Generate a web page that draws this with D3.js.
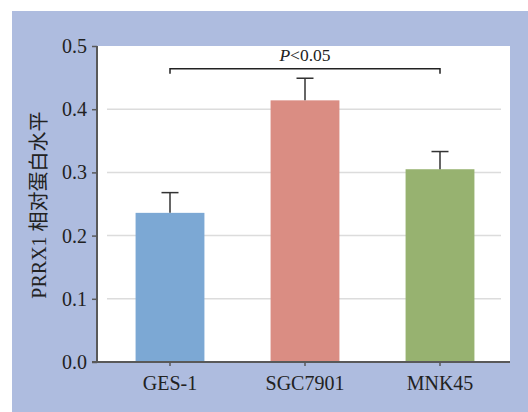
<!DOCTYPE html>
<html><head><meta charset="utf-8">
<script src="https://cdn.jsdelivr.net/npm/d3@7"></script>
<style>html,body{margin:0;padding:0;background:#fff;}svg{display:block;}</style>
</head><body>
<script>
const categories = ["GES-1", "SGC7901", "MNK45"];
const values = [0.236, 0.414, 0.305];
const errors = [0.032, 0.035, 0.028];
const colors = ["#7ca8d4", "#da8d83", "#97b270"];
const yTicks = [0.0, 0.1, 0.2, 0.3, 0.4, 0.5];
const yLabel = "PRRX1 相对蛋白水平";
const sigText = "<0.05";

const W = 528, H = 412;
const svg = d3.select("body").append("svg").attr("width", W).attr("height", H);
svg.append("rect").attr("x", 12).attr("y", 11).attr("width", W - 12).attr("height", H - 11).attr("fill", "#aebcdf");

const plot = {left: 97, right: 510, top: 46, bottom: 362};
svg.append("rect").attr("x", plot.left).attr("y", plot.top)
  .attr("width", plot.right - plot.left).attr("height", plot.bottom - plot.top).attr("fill", "#fff");

const y = d3.scaleLinear().domain([0, 0.5]).range([plot.bottom, plot.top]);
const x = d3.scaleBand().domain(categories).range([102.5, 507.5]).paddingInner(0.49).paddingOuter(0.245);

const serif = "'Liberation Serif','Times New Roman',serif";

// gridlines
svg.append("g").selectAll("line").data(yTicks.filter(t => t > 0 && t < 0.5)).join("line")
  .attr("x1", 107).attr("x2", 501).attr("y1", d => y(d)).attr("y2", d => y(d))
  .attr("stroke", "#dcdcdc").attr("stroke-width", 1.5);

// bars
svg.append("g").selectAll("rect").data(categories).join("rect")
  .attr("x", d => x(d)).attr("width", x.bandwidth())
  .attr("y", (d, i) => y(values[i])).attr("height", (d, i) => y(0) - y(values[i]))
  .attr("fill", (d, i) => colors[i]);

// error bars
const eg = svg.append("g").attr("stroke", "#333").attr("stroke-width", 1.5);
categories.forEach((c, i) => {
  const cx = x(c) + x.bandwidth() / 2;
  eg.append("line").attr("x1", cx).attr("x2", cx).attr("y1", y(values[i])).attr("y2", y(values[i] + errors[i]));
  eg.append("line").attr("x1", cx - 8.5).attr("x2", cx + 8.5).attr("y1", y(values[i] + errors[i])).attr("y2", y(values[i] + errors[i]));
});

// y axis
const yAxis = d3.axisLeft(y).tickValues(yTicks).tickFormat(d3.format(".1f")).tickSize(5).tickPadding(5);
const yg = svg.append("g").attr("transform", `translate(${plot.left},0)`).call(yAxis);
yg.select(".domain").attr("stroke", "#595959").attr("stroke-width", 2).attr("d", `M0,${plot.top}V${plot.bottom}`);
yg.selectAll(".tick line").attr("stroke", "#595959").attr("stroke-width", 1.5);
yg.selectAll(".tick text").attr("fill", "#222").style("font-family", serif).style("font-size", "20px");

// x axis
const xAxis = d3.axisBottom(x).tickSize(4).tickPadding(10);
const xg = svg.append("g").attr("transform", `translate(0,${plot.bottom})`).call(xAxis);
xg.select(".domain").attr("stroke", "#595959").attr("stroke-width", 2).attr("d", `M92,0H${plot.right}`);
xg.selectAll(".tick line").attr("stroke", "#595959").attr("stroke-width", 1.5);
xg.selectAll(".tick text").attr("fill", "#222").style("font-family", serif).style("font-size", "20px");

// y label
svg.append("text").attr("transform", `translate(46,205) rotate(-90)`).attr("text-anchor", "middle")
  .style("font-family", "'Liberation Serif','Noto Sans CJK SC',serif").style("font-size", "20px").attr("fill", "#222")
  .text(yLabel);

// significance bracket
const x1 = x(categories[0]) + x.bandwidth() / 2, x2 = x(categories[2]) + x.bandwidth() / 2;
const by = 68.7;
svg.append("path").attr("d", `M${x1},${by + 5}V${by}H${x2}V${by + 5}`)
  .attr("fill", "none").attr("stroke", "#222").attr("stroke-width", 1.5);
const st = svg.append("text").attr("x", (x1 + x2) / 2).attr("y", 61).attr("text-anchor", "middle")
  .style("font-family", serif).style("font-size", "17.5px").attr("fill", "#222");
st.append("tspan").style("font-style", "italic").text("P");
st.append("tspan").text(sigText);
</script>
</body></html>
